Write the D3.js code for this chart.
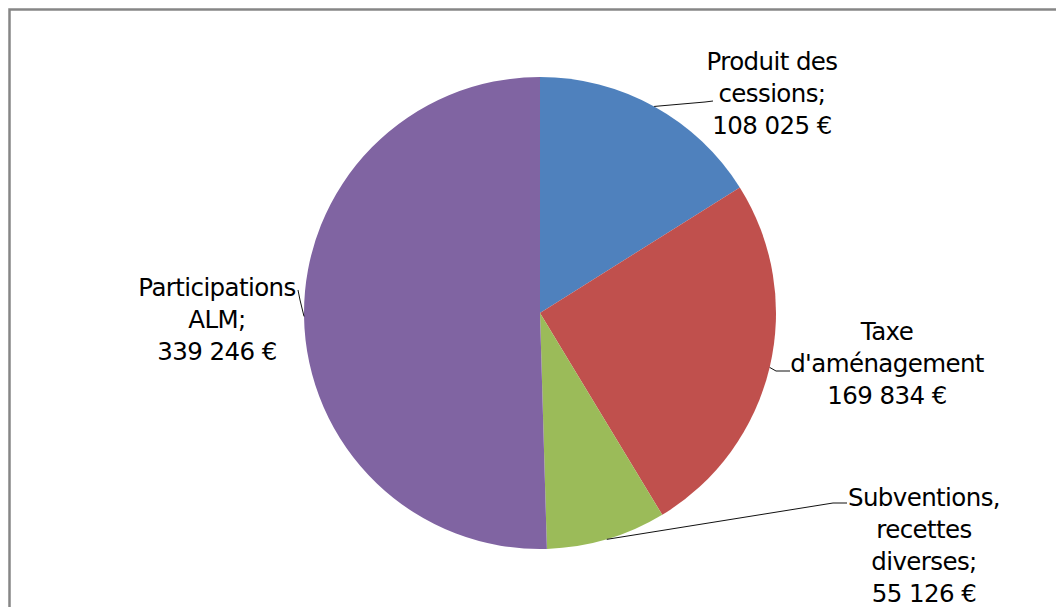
<!DOCTYPE html>
<html>
<head>
<meta charset="utf-8">
<script src="https://cdn.jsdelivr.net/npm/d3@7"></script>
<style>
  html, body { margin: 0; padding: 0; background: #fff; }
  svg { display: block; }
  text { font-family: "DejaVu Sans", Verdana, sans-serif; font-size: 24.5px; letter-spacing: -0.6px; fill: #000; }
</style>
</head>
<body>
<svg id="chart" width="1056" height="607"></svg>
<script>
// Recettes by source (euros)
const categories = [
  ["Produit des", "cessions;"],
  ["Taxe", "d'aménagement"],
  ["Subventions,", "recettes", "diverses;"],
  ["Participations", "ALM;"]
];
const values = [108025, 169834, 55126, 339246];
const colors = ["#4F81BD", "#C0504D", "#9BBB59", "#8064A2"];

// Label placement: text centre x, first baseline y, and leader elbow/end points
const labelLayout = [
  { x: 772, y: 70,  elbow: [705, 102], end: [713, 101] },
  { x: 887, y: 340, elbow: [776, 371], end: [790, 371] },
  { x: 924, y: 506, elbow: [833, 503], end: [847, 503] },
  { x: 217, y: 296, elbow: [300, 300], end: [298, 290] }
];

const euro = d3.formatLocale({ decimal: ",", thousands: "\u00a0", grouping: [3], currency: ["", "\u00a0€"] }).format("$,.0f");

const svg = d3.select("#chart");
const width = 1056, height = 607;
const cx = 540, cy = 313, radius = 236;
const lineH = 32;

// Outer frame
svg.append("rect")
  .attr("x", 9.5).attr("y", 9.5)
  .attr("width", width + 20).attr("height", height + 20)
  .attr("fill", "#fff")
  .attr("stroke", "#868686")
  .attr("stroke-width", 2.5);

const pie = d3.pie().sort(null).value(d => d);
const arcs = pie(values);
const arc = d3.arc().innerRadius(0).outerRadius(radius);

const g = svg.append("g").attr("transform", `translate(${cx},${cy})`);

g.selectAll("path.slice")
  .data(arcs)
  .join("path")
  .attr("class", "slice")
  .attr("d", arc)
  .attr("fill", (d, i) => colors[i]);

// Leader lines from each slice edge to its label
svg.selectAll("path.leader")
  .data(arcs)
  .join("path")
  .attr("class", "leader")
  .attr("fill", "none")
  .attr("stroke", "#111")
  .attr("stroke-width", 1)
  .attr("d", (d, i) => {
    const a = (d.startAngle + d.endAngle) / 2;
    const px = cx + radius * Math.sin(a), py = cy - radius * Math.cos(a);
    const L = labelLayout[i];
    return d3.line()([[px, py], L.elbow, L.end]);
  });

// Data labels: category lines followed by the value
svg.selectAll("text.label")
  .data(arcs)
  .join("text")
  .attr("class", "label")
  .attr("text-anchor", "middle")
  .each(function(d, i) {
    const L = labelLayout[i];
    const lines = categories[i].concat([euro(d.data)]);
    d3.select(this).selectAll("tspan")
      .data(lines)
      .join("tspan")
      .attr("x", L.x)
      .attr("y", (t, j) => L.y + j * lineH)
      .text(t => t);
  });
</script>
</body>
</html>
